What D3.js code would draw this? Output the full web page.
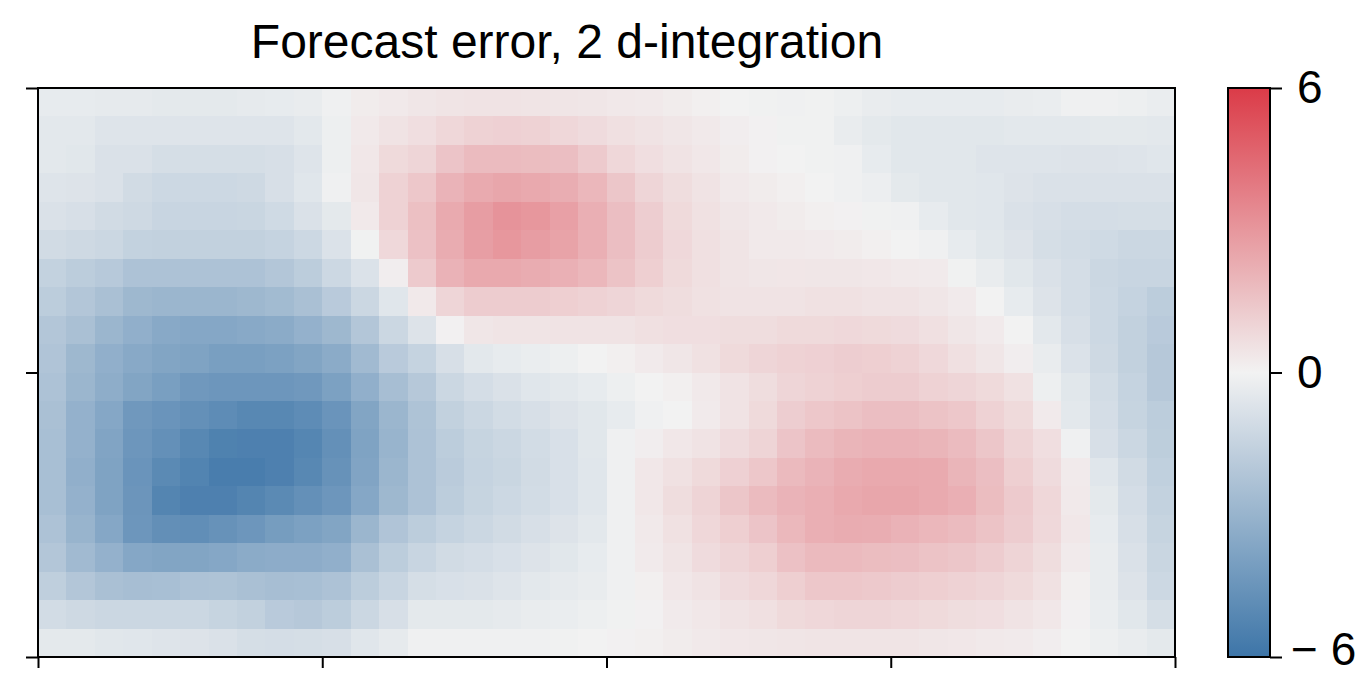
<!DOCTYPE html>
<html>
<head>
<meta charset="utf-8">
<script src="https://cdn.jsdelivr.net/npm/d3@7"></script>
<style>
body { margin: 0; background: #fff; }
text { font-family: "Liberation Sans", Arial, Helvetica, sans-serif; }
</style>
</head>
<body>
<div id="main"></div>
<script>
// chart texts and ticks
var title = "Forecast error, 2 d-integration";
var colorTicks = [-6, 0, 6];
var xTicks = [0, 10, 20, 30, 40];
var yTicks = [0, 10, 20];

// forecast error field, 20 rows (top to bottom) x 40 columns
var errorRows = [
  [-0.35,-0.35,-0.4,-0.4,-0.45,-0.45,-0.45,-0.4,-0.35,-0.3,-0.1,0.2,0.3, 0.4,0.45,0.5,0.5,0.45,0.43,0.4,0.33,0.3,0.2,0.1,0,-0.05,-0.1, -0.05,-0.15,-0.3,-0.35,-0.35,-0.35,-0.35,-0.3,-0.25,-0.1,-0.1,-0.15,-0.25],
  [-0.5,-0.5,-0.65,-0.65,-0.65,-0.65,-0.65,-0.65,-0.65,-0.5,-0.15,0.3,0.5, 0.65,0.9,1.05,1.1,1.05,0.9,0.75,0.6,0.5,0.4,0.3,0.15,0.05,-0.05, -0.05,-0.3,-0.45,-0.55,-0.55,-0.55,-0.55,-0.5,-0.5,-0.5,-0.45,-0.45,-0.5],
  [-0.5,-0.55,-0.8,-0.8,-0.95,-0.95,-0.95,-0.95,-0.9,-0.65,-0.15,0.35,0.8, 0.95,1.5,1.8,1.8,1.75,1.7,1.3,0.9,0.65,0.5,0.35,0.2,0.05,0, -0.05,-0.1,-0.35,-0.55,-0.55,-0.55,-0.65,-0.65,-0.65,-0.7,-0.7,-0.65,-0.6],
  [-0.65,-0.7,-0.8,-1.1,-1.25,-1.25,-1.25,-1.2,-0.9,-0.6,-0.1,0.4,1.05, 1.4,2.05,2.35,2.5,2.4,2.25,1.95,1.45,0.95,0.7,0.5,0.3,0.2,0.1, 0,-0.1,-0.2,-0.45,-0.55,-0.55,-0.6,-0.7,-0.8,-0.8,-0.8,-0.8,-0.8],
  [-0.8,-0.9,-1.1,-1.2,-1.4,-1.4,-1.4,-1.35,-1.15,-0.8,-0.45,0.3,1.05, 1.65,2.35,2.8,3.1,3.0,2.7,2.2,1.7,1.2,0.8,0.55,0.4,0.3,0.2, 0.1,0.05,-0.05,-0.1,-0.35,-0.55,-0.6,-0.8,-0.9,-1.0,-1.0,-0.95,-0.95],
  [-1.1,-1.2,-1.3,-1.55,-1.6,-1.6,-1.6,-1.6,-1.5,-1.25,-0.75,-0.05,0.85, 1.6,2.3,2.75,3.0,2.8,2.6,2.2,1.7,1.25,0.85,0.6,0.45,0.3,0.28, 0.25,0.2,0.1,0,-0.1,-0.35,-0.55,-0.7,-0.95,-1.05,-1.15,-1.3,-1.3],
  [-1.55,-1.8,-1.95,-2.3,-2.3,-2.3,-2.3,-2.3,-2.1,-1.8,-1.25,-0.75,0.15, 1.3,2.1,2.4,2.4,2.3,2.15,1.95,1.55,1.15,0.8,0.6,0.45,0.4,0.38, 0.4,0.4,0.35,0.3,0.25,-0.05,-0.3,-0.55,-0.8,-1.0,-1.3,-1.4,-1.4],
  [-1.8,-2.1,-2.4,-2.8,-2.9,-2.9,-2.9,-2.8,-2.65,-2.4,-1.9,-1.3,-0.6, 0.3,0.95,1.25,1.25,1.25,1.15,1.05,0.95,0.8,0.7,0.55,0.5,0.5,0.5, 0.55,0.55,0.5,0.5,0.4,0.25,0,-0.35,-0.7,-1.0,-1.25,-1.5,-1.8],
  [-2.1,-2.4,-2.9,-3.2,-3.5,-3.6,-3.6,-3.5,-3.4,-3.1,-2.8,-2.1,-1.3, -0.7,0.05,0.4,0.45,0.45,0.5,0.5,0.5,0.6,0.65,0.65,0.7,0.7,0.8, 0.8,0.85,0.8,0.75,0.6,0.4,0.25,0,-0.5,-0.9,-1.25,-1.6,-1.9],
  [-2.2,-2.8,-3.2,-3.5,-3.7,-3.8,-4.0,-4.0,-3.9,-3.7,-3.4,-2.7,-1.9, -1.5,-0.9,-0.5,-0.35,-0.25,-0.15,0,0.1,0.25,0.4,0.55,0.8,0.95,1.05, 1.1,1.2,1.15,1.05,0.85,0.6,0.4,0.15,-0.3,-0.75,-1.2,-1.6,-2.0],
  [-2.3,-2.9,-3.3,-3.7,-4.0,-4.3,-4.4,-4.4,-4.4,-4.3,-3.9,-3.2,-2.5, -2.0,-1.3,-1.0,-0.8,-0.6,-0.5,-0.35,-0.15,0,0.1,0.3,0.5,0.7,0.95, 1.05,1.15,1.25,1.25,1.05,0.95,0.8,0.55,-0.15,-0.55,-1.05,-1.5,-2.0],
  [-2.4,-3.1,-3.6,-4.3,-4.5,-4.7,-4.9,-5.1,-5.1,-4.9,-4.5,-3.7,-2.9, -2.25,-1.6,-1.3,-1.05,-0.9,-0.7,-0.55,-0.35,-0.1,0,0.25,0.5,0.8,1.2, 1.4,1.55,1.7,1.7,1.55,1.4,1.05,0.8,0.25,-0.5,-1.0,-1.45,-1.8],
  [-2.45,-3.1,-3.75,-4.4,-4.7,-5.1,-5.4,-5.45,-5.45,-5.2,-4.7,-3.8,-3.0, -2.3,-1.8,-1.45,-1.3,-1.05,-0.85,-0.55,-0.1,0.15,0.35,0.5,0.75,1.0,1.5, 1.8,2.0,2.1,2.1,2.0,1.8,1.45,1.0,0.65,-0.1,-0.9,-1.3,-1.75],
  [-2.45,-3.2,-3.8,-4.5,-5.0,-5.3,-5.6,-5.6,-5.45,-5.1,-4.6,-3.75,-2.9, -2.3,-1.85,-1.5,-1.35,-1.1,-0.85,-0.6,-0.1,0.35,0.55,0.8,1.1,1.4,1.85, 2.05,2.3,2.4,2.4,2.35,2.0,1.7,1.15,0.75,0.25,-0.6,-1.1,-1.65],
  [-2.45,-3.1,-3.8,-4.45,-5.25,-5.45,-5.45,-5.25,-5.0,-4.7,-4.4,-3.6,-2.8, -2.3,-1.8,-1.45,-1.25,-1.05,-0.85,-0.6,-0.1,0.35,0.7,1.0,1.45,1.8,2.05, 2.2,2.4,2.5,2.5,2.35,2.2,1.75,1.3,0.9,0.3,-0.45,-1.0,-1.55],
  [-2.3,-3.0,-3.6,-4.4,-4.75,-4.8,-4.6,-4.4,-4.1,-3.9,-3.7,-2.9,-2.2, -1.8,-1.5,-1.3,-1.1,-0.9,-0.7,-0.5,-0.1,0.3,0.55,0.9,1.15,1.5,1.9, 2.2,2.3,2.25,2.1,1.95,1.8,1.55,1.25,0.85,0.35,-0.35,-0.9,-1.45],
  [-2.1,-2.7,-3.1,-3.6,-3.7,-3.7,-3.6,-3.4,-3.35,-3.35,-3.2,-2.4,-1.8, -1.4,-1.1,-1.0,-0.85,-0.7,-0.55,-0.35,-0.1,0.25,0.45,0.75,0.95,1.15,1.6, 1.85,1.85,1.75,1.7,1.55,1.45,1.25,1.0,0.7,0.25,-0.3,-0.8,-1.35],
  [-1.7,-2.1,-2.4,-2.5,-2.45,-2.3,-2.25,-2.4,-2.5,-2.45,-2.3,-1.8,-1.4, -0.95,-0.85,-0.8,-0.65,-0.5,-0.4,-0.3,-0.1,0.1,0.35,0.5,0.75,0.9,1.15, 1.4,1.4,1.35,1.25,1.15,1.05,0.95,0.8,0.55,0.1,-0.3,-0.7,-1.25],
  [-1.05,-1.2,-1.3,-1.3,-1.3,-1.3,-1.45,-1.6,-1.9,-2.0,-1.8,-1.3,-0.9, -0.45,-0.45,-0.45,-0.4,-0.3,-0.25,-0.15,-0.05,0.05,0.25,0.35,0.5,0.6,0.8, 0.9,0.95,0.95,0.9,0.8,0.7,0.65,0.5,0.35,0.05,-0.25,-0.55,-0.95],
  [-0.45,-0.45,-0.55,-0.6,-0.65,-0.7,-0.8,-0.95,-1.0,-0.95,-0.9,-0.6,-0.4, -0.1,-0.1,-0.1,-0.1,-0.1,-0.05,0,0.05,0.1,0.2,0.3,0.35,0.4,0.42, 0.45,0.45,0.45,0.45,0.4,0.35,0.3,0.25,0.15,0,-0.15,-0.3,-0.45]
];

// plot geometry
var plot = {left: 38, top: 88, width: 1137, height: 569};
var bar = {left: 1228, width: 42};

var nRows = errorRows.length,
    nCols = errorRows[0].length;

// scales
var x = d3.scaleBand().domain(d3.range(nCols)).range([plot.left, plot.left + plot.width]);
var y = d3.scaleBand().domain(d3.range(nRows)).range([plot.top, plot.top + plot.height]);
var xTickScale = d3.scaleLinear().domain([0, nCols]).range([plot.left, plot.left + plot.width]);
var yTickScale = d3.scaleLinear().domain([0, nRows]).range([plot.top, plot.top + plot.height]);

// diverging blue - white - red
var color = d3.scaleLinear()
    .domain([-6, 0, 6])
    .range(["#3d75a8", "#f2f2f2", "#db3b48"])
    .clamp(true);

var svg = d3.select("#main").append("svg")
    .attr("width", 1358)
    .attr("height", 675);

// flatten the grid into cells
var cells = [];
errorRows.forEach(function(row, r) {
    row.forEach(function(v, c) {
        cells.push({row: r, col: c, value: v});
    });
});

svg.append("g")
    .selectAll("rect")
    .data(cells)
    .enter().append("rect")
    .attr("x", function(d) { return x(d.col); })
    .attr("y", function(d) { return y(d.row); })
    .attr("width", x.bandwidth() + 0.6)
    .attr("height", y.bandwidth() + 0.6)
    .attr("shape-rendering", "crispEdges")
    .style("fill", function(d) { return color(d.value); });

// frame
svg.append("rect")
    .attr("x", plot.left)
    .attr("y", plot.top)
    .attr("width", plot.width)
    .attr("height", plot.height)
    .attr("fill", "none")
    .attr("stroke", "#000")
    .attr("stroke-width", 2);

// ticks without labels
var xAxis = svg.append("g")
    .attr("transform", "translate(0," + (plot.top + plot.height) + ")")
    .call(d3.axisBottom(xTickScale).tickValues(xTicks).tickSize(11).tickFormat(""));

var yAxis = svg.append("g")
    .attr("transform", "translate(" + plot.left + ",0)")
    .call(d3.axisLeft(yTickScale).tickValues(yTicks).tickSize(12).tickFormat(""));

[xAxis, yAxis].forEach(function(a) {
    a.select(".domain").remove();
    a.selectAll(".tick line").attr("stroke", "#000").attr("stroke-width", 2);
});

// title
svg.append("text")
    .attr("x", 567)
    .attr("y", 58)
    .attr("text-anchor", "middle")
    .style("font-size", "48px")
    .style("fill", "#000")
    .text(title);

// colorbar gradient
var defs = svg.append("defs");
var grad = defs.append("linearGradient")
    .attr("id", "cbar")
    .attr("x1", "0").attr("y1", "1")
    .attr("x2", "0").attr("y2", "0");

d3.range(-6, 6.01, 1).forEach(function(v) {
    grad.append("stop")
        .attr("offset", ((v + 6) / 12 * 100) + "%")
        .attr("stop-color", color(v));
});

var cScale = d3.scaleLinear().domain([-6, 6]).range([plot.top + plot.height, plot.top]);

svg.append("rect")
    .attr("x", bar.left)
    .attr("y", plot.top)
    .attr("width", bar.width)
    .attr("height", plot.height)
    .attr("fill", "url(#cbar)")
    .attr("stroke", "#000")
    .attr("stroke-width", 2);

var cAxis = svg.append("g")
    .attr("transform", "translate(" + (bar.left + bar.width) + ",0)")
    .call(d3.axisRight(cScale)
        .tickValues(colorTicks)
        .tickSize(12)
        .tickPadding(15)
        .tickFormat(function(d) { return d < 0 ? "\u2212 " + Math.abs(d) : d; }));

cAxis.select(".domain").remove();
cAxis.selectAll(".tick line").attr("stroke", "#000").attr("stroke-width", 2);
cAxis.selectAll(".tick text")
    .style("font-size", "46px")
    .style("font-family", "'Liberation Sans', Arial, Helvetica, sans-serif")
    .style("fill", "#000")
    // pull the negative label in a little so it stays on the page
    .attr("x", function(d) { return d < 0 ? 21 : 27; })
    .attr("y", function(d) { return d < 0 ? -7 : 0; });
</script>
</body>
</html>
